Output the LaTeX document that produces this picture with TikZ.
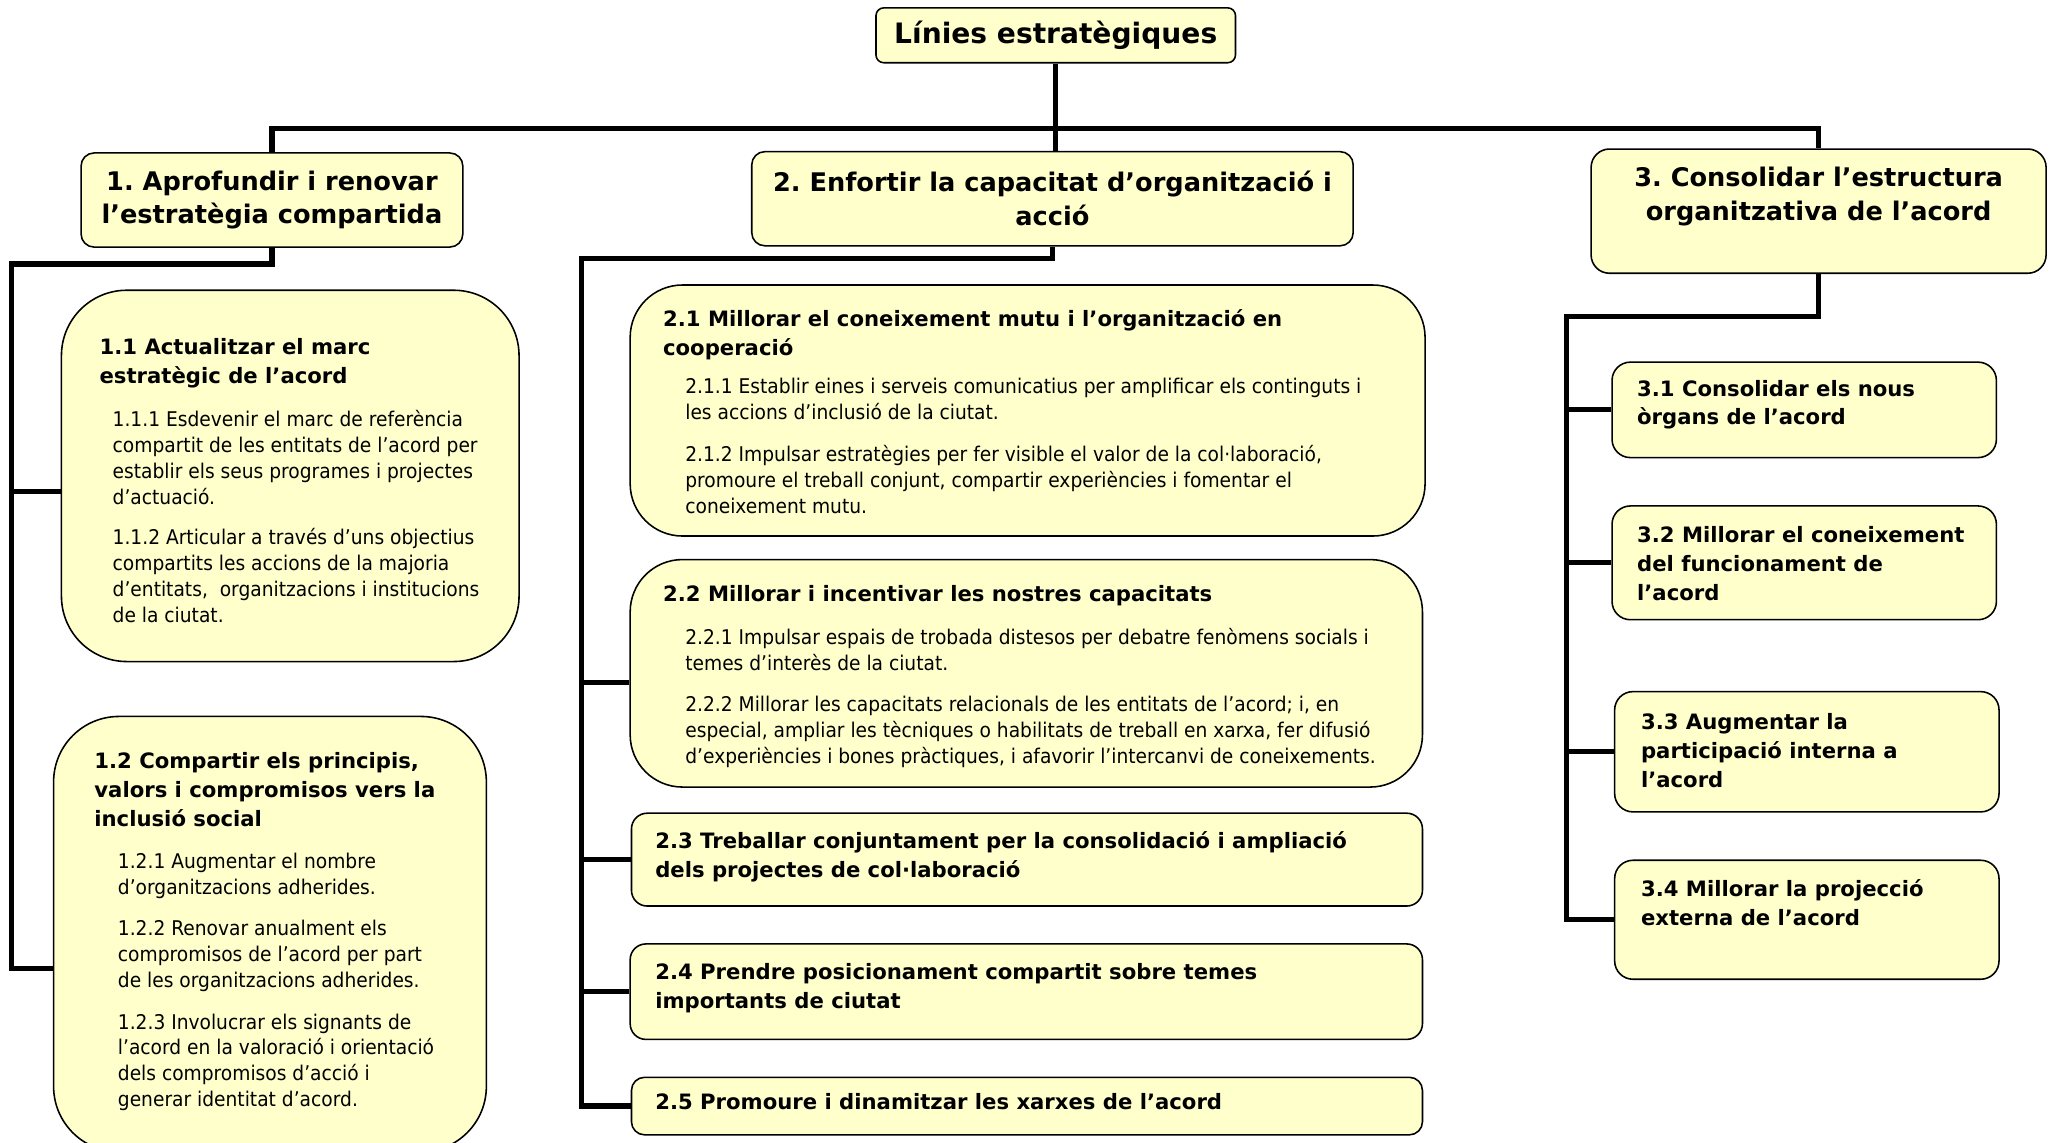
\documentclass[tikz,border=0pt]{standalone}
\usepackage{fontspec}
\setmainfont{DejaVu Sans}
\newfontfamily\bodyfont[FakeStretch=0.92]{DejaVu Sans}
\definecolor{boxfill}{HTML}{FFFFCC}
\frenchspacing

\begin{document}
\begin{tikzpicture}[x=1pt,y=-1pt,
    box/.style={draw,fill=boxfill,line width=1.2pt,inner sep=0pt},
    conn/.style={line width=4pt},
    lvl/.style={align=center,inner sep=0pt,font=\bfseries\fontsize{19.6}{26}\selectfont},
    head/.style={anchor=base west,align=left,inner sep=0pt,font=\bfseries\fontsize{16.2}{22}\selectfont},
    body/.style={anchor=base west,align=left,inner sep=0pt,font=\bodyfont\fontsize{15.5}{19.8}\selectfont}]
  \useasboundingbox (0,0) rectangle (1568,874);

  % top and first level
  \node[box,rounded corners=6pt,minimum width=275pt,minimum height=42pt](top) at (807.5,27) {};
  \node[inner sep=0pt,font=\bfseries\fontsize{21.5}{26}\selectfont](ttop) at (807.5,27) {Línies estratègiques};
  \node[box,rounded corners=10pt,minimum width=292pt,minimum height=72pt](c1) at (208,153) {};
  \node[lvl](tc1) at (208,153) {1. Aprofundir i renovar\\l’estratègia compartida};
  \node[box,rounded corners=10pt,minimum width=460pt,minimum height=72pt](c2) at (805,152) {};
  \node[lvl](tc2) at (805,152) {2. Enfortir la capacitat d’organització i\\acció};
  \node[box,rounded corners=14pt,minimum width=348pt,minimum height=95pt](c3) at (1391,161.5) {};
  \node[lvl](tc3) at (1391,150) {3. Consolidar l’estructura\\organitzativa de l’acord};

  % column 1 (text nodes sit on the baseline of their last line)
  \node[box,rounded corners=50pt,minimum width=350pt,minimum height=284pt](b11) at (222,364) {};
  \node[head](t11) at (76,293) {1.1 Actualitzar el marc\\estratègic de l’acord};
  \node[body](d11) at (86,476) {1.1.1 Esdevenir el marc de referència\\compartit de les entitats de l’acord per\\establir els seus programes i projectes\\d’actuació.\\[11pt]1.1.2 Articular a través d’uns objectius\\compartits les accions de la majoria\\d’entitats,\ \ organitzacions i institucions\\de la ciutat.};
  \node[box,rounded corners=50pt,minimum width=331pt,minimum height=333pt](b12) at (206.5,714.5) {};
  \node[head](t12) at (72,632) {1.2 Compartir els principis,\\valors i compromisos vers la\\inclusió social};
  \node[body](d12) at (90,846.5) {1.2.1 Augmentar el nombre\\d’organitzacions adherides.\\[12pt]1.2.2 Renovar anualment els\\compromisos de l’acord per part\\de les organitzacions adherides.\\[12pt]1.2.3 Involucrar els signants de\\l’acord en la valoració i orientació\\dels compromisos d’acció i\\generar identitat d’acord.};

  % column 2
  \node[box,rounded corners=40pt,minimum width=608pt,minimum height=192pt](b21) at (786,314) {};
  \node[head](t21) at (507,272) {2.1 Millorar el coneixement mutu i l’organització en\\cooperació};
  \node[body](d21) at (524,392.5) {2.1.1 Establir eines i serveis comunicatius per amplificar els continguts i\\les accions d’inclusió de la ciutat.\\[12pt]2.1.2 Impulsar estratègies per fer visible el valor de la col·laboració,\\promoure el treball conjunt, compartir experiències i fomentar el\\coneixement mutu.};
  \node[box,rounded corners=40pt,minimum width=606pt,minimum height=174pt](b22) at (785,515) {};
  \node[head](t22) at (507,460) {2.2 Millorar i incentivar les nostres capacitats};
  \node[body](d22) at (524,584) {2.2.1 Impulsar espais de trobada distesos per debatre fenòmens socials i\\temes d’interès de la ciutat.\\[12pt]2.2.2 Millorar les capacitats relacionals de les entitats de l’acord; i, en\\especial, ampliar les tècniques o habilitats de treball en xarxa, fer difusió\\d’experiències i bones pràctiques, i afavorir l’intercanvi de coneixements.};
  \node[box,rounded corners=12pt,minimum width=605pt,minimum height=71pt](b23) at (785.5,657.5) {};
  \node[head](t23) at (501,671) {2.3 Treballar conjuntament per la consolidació i ampliació\\dels projectes de col·laboració};
  \node[box,rounded corners=12pt,minimum width=606pt,minimum height=73pt](b24) at (785,758.5) {};
  \node[head](t24) at (501,771) {2.4 Prendre posicionament compartit sobre temes\\importants de ciutat};
  \node[box,rounded corners=10pt,minimum width=605pt,minimum height=44pt](b25) at (785.5,846) {};
  \node[head](t25) at (501,849) {2.5 Promoure i dinamitzar les xarxes de l’acord};

  % column 3
  \node[box,rounded corners=14pt,minimum width=294pt,minimum height=73pt](b31) at (1380,313.5) {};
  \node[head](t31) at (1252,325) {3.1 Consolidar els nous\\òrgans de l’acord};
  \node[box,rounded corners=14pt,minimum width=294pt,minimum height=87pt](b32) at (1380,430.5) {};
  \node[head](t32) at (1252,459) {3.2 Millorar el coneixement\\del funcionament de\\l’acord};
  \node[box,rounded corners=14pt,minimum width=294pt,minimum height=92pt](b33) at (1382,575) {};
  \node[head](t33) at (1255,602) {3.3 Augmentar la\\participació interna a\\l’acord};
  \node[box,rounded corners=14pt,minimum width=294pt,minimum height=91pt](b34) at (1382,703.5) {};
  \node[head](t34) at (1255,708) {3.4 Millorar la projecció\\externa de l’acord};

  % connectors
  \coordinate (bus) at (808,98);
  \coordinate (s1) at (9,202);
  \coordinate (s2) at (445,198);
  \coordinate (s3) at (1198,242);
  \coordinate (j11) at ([yshift=-12pt]b11.west);
  \coordinate (j12) at ([yshift=-26pt]b12.west);
  \coordinate (j22) at ([yshift=-7pt]b22.west);
  \draw[conn] (top.south) -- (top.south |- c2.north);
  \draw[conn] (c1.north) |- (bus) -| (c3.north);
  \draw[conn] (c1.south) |- (s1) |- (j12);
  \draw[conn] (s1 |- j11) -- (j11);
  \draw[conn] (c2.south) |- (s2) |- (b25.west);
  \draw[conn] (s2 |- j22) -- (j22);
  \draw[conn] (s2 |- b23.west) -- (b23.west);
  \draw[conn] (s2 |- b24.west) -- (b24.west);
  \draw[conn] (c3.south) |- (s3) |- (b34.west);
  \draw[conn] (s3 |- b31.west) -- (b31.west);
  \draw[conn] (s3 |- b32.west) -- (b32.west);
  \draw[conn] (s3 |- b33.west) -- (b33.west);
\end{tikzpicture}
\end{document}
